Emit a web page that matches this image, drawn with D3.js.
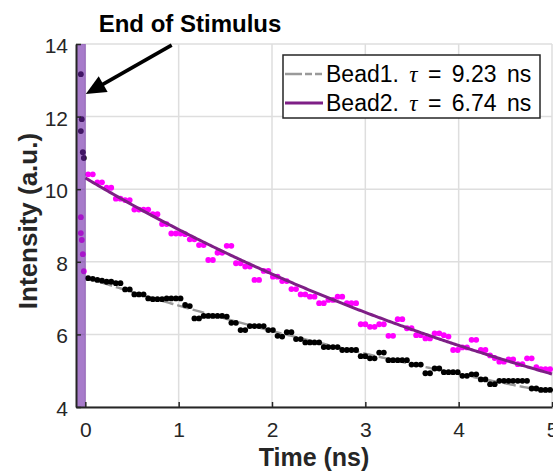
<!DOCTYPE html>
<html>
<head>
<meta charset="utf-8">
<script src="https://cdn.jsdelivr.net/npm/d3@7"></script>
<style>
  body { margin: 0; background: #fff; }
  svg { display: block; font-family: "Liberation Sans", Arial, Helvetica, sans-serif; }
</style>
</head>
<body>
<svg id="chart" width="553" height="472"></svg>
<script>
// Time bins of the decay histograms (ns)
const binStart = 0.030;
const binWidth = 0.0495;

// Bead1 intensity per bin (a.u.)
const bead1 = [
  7.55,7.53,7.50,7.48,7.45,7.45,7.41,7.41,7.24,7.24,
  7.10,7.10,7.10,6.99,6.97,6.97,6.97,6.99,6.99,6.99,
  6.99,6.81,6.78,6.44,6.44,6.51,6.51,6.51,6.51,6.51,
  6.49,6.32,6.32,6.12,6.12,6.23,6.23,6.23,6.23,6.12,
  6.12,5.96,5.94,6.06,6.06,5.87,5.87,5.78,5.78,5.78,
  5.78,5.65,5.65,5.65,5.65,5.57,5.57,5.57,5.57,5.40,
  5.40,5.34,5.34,5.50,5.50,5.29,5.29,5.29,5.29,5.29,
  5.17,5.17,5.17,4.93,4.93,5.06,5.06,4.96,4.96,4.96,
  4.96,4.86,4.86,4.90,4.90,4.76,4.76,4.63,4.63,4.72,
  4.72,4.72,4.72,4.72,4.72,4.72,4.51,4.51,4.47,4.47,4.47
];

// Bead2 intensity per bin (a.u.)
const bead2 = [
  10.41,10.41,10.19,10.19,10.04,10.04,9.74,9.74,9.70,9.70,
  9.44,9.44,9.44,9.44,9.31,9.31,9.04,9.04,8.78,8.78,
  8.78,8.76,8.62,8.62,8.46,8.46,8.05,8.05,8.25,8.25,
  8.44,8.44,7.96,7.96,7.87,7.87,7.50,7.50,7.75,7.75,
  7.59,7.59,7.47,7.47,7.25,7.25,7.10,7.10,7.04,7.04,
  6.86,6.86,6.95,6.95,7.04,7.04,6.86,6.86,6.86,6.28,
  6.28,6.21,6.21,6.28,6.28,5.96,5.96,6.42,6.42,6.17,
  6.17,5.98,5.98,5.89,5.89,6.03,6.03,5.98,5.94,5.57,
  5.57,5.64,5.64,5.85,5.85,5.57,5.57,5.42,5.35,5.25,
  5.25,5.31,5.31,5.18,5.18,5.34,5.34,5.10,5.04,5.04,5.04
];

// Samples recorded while the stimulus was still on
const stimTimes1 = [-0.048, -0.038, -0.048, -0.027, -0.016];
const stimBead1  = [13.17, 11.93, 11.60, 11.02, 10.86];
const stimTimes2 = [-0.048, -0.048, -0.038, -0.027, -0.016];
const stimBead2  = [9.23, 8.79, 8.60, 8.21, 7.74];

// Single-exponential fits: I(t) = A * exp(-t / tau)
const fitNames = ["Bead1", "Bead2"];
const fitTau = [9.23, 6.74];
const fitAmp = [7.57, 10.31];

// Stimulus window (ns)
const stimWindow = [-0.1, 0.005];

const xTicks = [0, 1, 2, 3, 4, 5];
const yTicks = [4, 6, 8, 10, 12, 14];

const svg = d3.select("#chart");
const plotLeft = 76, plotRight = 552, plotTop = 44, plotBottom = 407;
const x = d3.scaleLinear().domain([-0.1, 5]).range([plotLeft, plotRight]);
const y = d3.scaleLinear().domain([4, 14]).range([plotBottom, plotTop]);

const times = d3.range(bead1.length).map(i => binStart + binWidth * i);
const pts1 = times.map((t, i) => ({ t, v: bead1[i] }));
const pts2 = times.map((t, i) => ({ t, v: bead2[i] }));
const stim1 = stimTimes1.map((t, i) => ({ t, v: stimBead1[i] }));
const stim2 = stimTimes2.map((t, i) => ({ t, v: stimBead2[i] }));

const axisColor = "#262626";
const gridColor = "#dedede";
const dotR = 2.9;

// grid
const grid = svg.append("g");
grid.selectAll("line.gx").data(xTicks).join("line").attr("class", "gx")
  .attr("x1", d => x(d)).attr("x2", d => x(d))
  .attr("y1", plotTop).attr("y2", plotBottom)
  .attr("stroke", gridColor).attr("stroke-width", 1.5);
grid.selectAll("line.gy").data(yTicks).join("line").attr("class", "gy")
  .attr("x1", plotLeft).attr("x2", plotRight)
  .attr("y1", d => y(d)).attr("y2", d => y(d))
  .attr("stroke", gridColor).attr("stroke-width", 1.5);

// fit curves
const fitT = d3.range(0, 5.001, 0.02);
const fitLine = d3.line().x(d => x(d.t)).y(d => y(d.v));
const fits = fitTau.map((tau, j) => fitT.map(t => ({ t, v: fitAmp[j] * Math.exp(-t / tau) })));

svg.append("path").datum(fits[0])
  .attr("d", fitLine).attr("fill", "none")
  .attr("stroke", "#9a9a9a").attr("stroke-width", 2.4)
  .attr("stroke-dasharray", "12,4");

// Bead2 samples
svg.append("g").selectAll("circle").data(pts2.concat(stim2)).join("circle")
  .attr("cx", d => x(d.t)).attr("cy", d => y(d.v)).attr("r", dotR)
  .attr("fill", "#ff00ff");

svg.append("path").datum(fits[1])
  .attr("d", fitLine).attr("fill", "none")
  .attr("stroke", "#7e1f86").attr("stroke-width", 3);

// Bead1 samples
svg.append("g").selectAll("circle").data(pts1.concat(stim1)).join("circle")
  .attr("cx", d => x(d.t)).attr("cy", d => y(d.v)).attr("r", dotR)
  .attr("fill", "#000");

// stimulus window shading
svg.append("rect")
  .attr("x", x(stimWindow[0])).attr("width", x(stimWindow[1]) - x(stimWindow[0]))
  .attr("y", y(14)).attr("height", y(4) - y(14))
  .attr("fill", "rgb(108,35,167)").attr("fill-opacity", 0.6);

// axes
const xAxis = svg.append("g").attr("transform", `translate(0,${plotBottom})`)
  .call(d3.axisBottom(x).tickValues(xTicks).tickFormat(d3.format("d"))
    .tickSize(-5).tickSizeOuter(0).tickPadding(15));
const yAxis = svg.append("g").attr("transform", `translate(${plotLeft},0)`)
  .call(d3.axisLeft(y).tickValues(yTicks).tickFormat(d3.format("d"))
    .tickSize(-5).tickSizeOuter(0).tickPadding(8));
[xAxis, yAxis].forEach(g => {
  g.select(".domain").attr("stroke", axisColor).attr("stroke-width", 2);
  g.selectAll(".tick line").attr("stroke", axisColor).attr("stroke-width", 1.5);
  g.selectAll(".tick text").attr("fill", axisColor).attr("font-size", 21)
    .attr("font-family", "'Liberation Sans', Arial, sans-serif");
});
yAxis.selectAll(".tick text").attr("dy", "0.4em");

// axis titles
svg.append("text").attr("x", 314).attr("y", 466).attr("text-anchor", "middle")
  .attr("font-size", 25).attr("font-weight", "bold").attr("fill", axisColor)
  .text("Time (ns)");
svg.append("text").attr("transform", "translate(37,221) rotate(-90)")
  .attr("text-anchor", "middle")
  .attr("font-size", 26).attr("font-weight", "bold").attr("fill", axisColor)
  .text("Intensity (a.u.)");

// legend
const lg = svg.append("g");
lg.append("rect").attr("x", 283).attr("y", 55).attr("width", 257).attr("height", 63)
  .attr("fill", "#fff").attr("stroke", "#262626").attr("stroke-width", 1.5);
const rows = [
  { y: 74, stroke: "#9a9a9a", dash: "17,3,7,3,7", w: 2.6 },
  { y: 103, stroke: "#7e1f86", dash: null, w: 3 }
];
rows.forEach((r, i) => {
  lg.append("line").attr("x1", 285).attr("x2", 323).attr("y1", r.y).attr("y2", r.y)
    .attr("stroke", r.stroke).attr("stroke-width", r.w)
    .attr("stroke-dasharray", r.dash);
  const t = lg.append("text").attr("x", 326).attr("y", r.y + 8)
    .attr("font-size", 23).attr("word-spacing", 4).attr("fill", "#000");
  t.append("tspan").text(fitNames[i] + ". ");
  t.append("tspan").attr("font-family", "'Liberation Serif', 'DejaVu Serif', serif")
    .attr("font-style", "italic").text("\u03C4");
  t.append("tspan").text(" = " + fitTau[i].toFixed(2) + " ns");
});

// annotation
svg.append("text").attr("x", 190).attr("y", 32).attr("text-anchor", "middle")
  .attr("font-size", 24).attr("font-weight", "bold").attr("fill", "#000")
  .text("End of Stimulus");
const tail = [x(0.925), y(13.97)], tip = [x(0.005), y(12.62)];
const dx = tip[0] - tail[0], dy = tip[1] - tail[1], len = Math.hypot(dx, dy);
const ux = dx / len, uy = dy / len, headL = 20, headW = 9;
const base = [tip[0] - headL * ux, tip[1] - headL * uy];
svg.append("line").attr("x1", tail[0]).attr("y1", tail[1])
  .attr("x2", base[0] + 2 * ux).attr("y2", base[1] + 2 * uy)
  .attr("stroke", "#000").attr("stroke-width", 3.6);
svg.append("polygon")
  .attr("points", [tip, [base[0] - headW * uy, base[1] + headW * ux], [base[0] + headW * uy, base[1] - headW * ux]]
    .map(p => p.join(",")).join(" "))
  .attr("fill", "#000");
</script>
</body>
</html>
